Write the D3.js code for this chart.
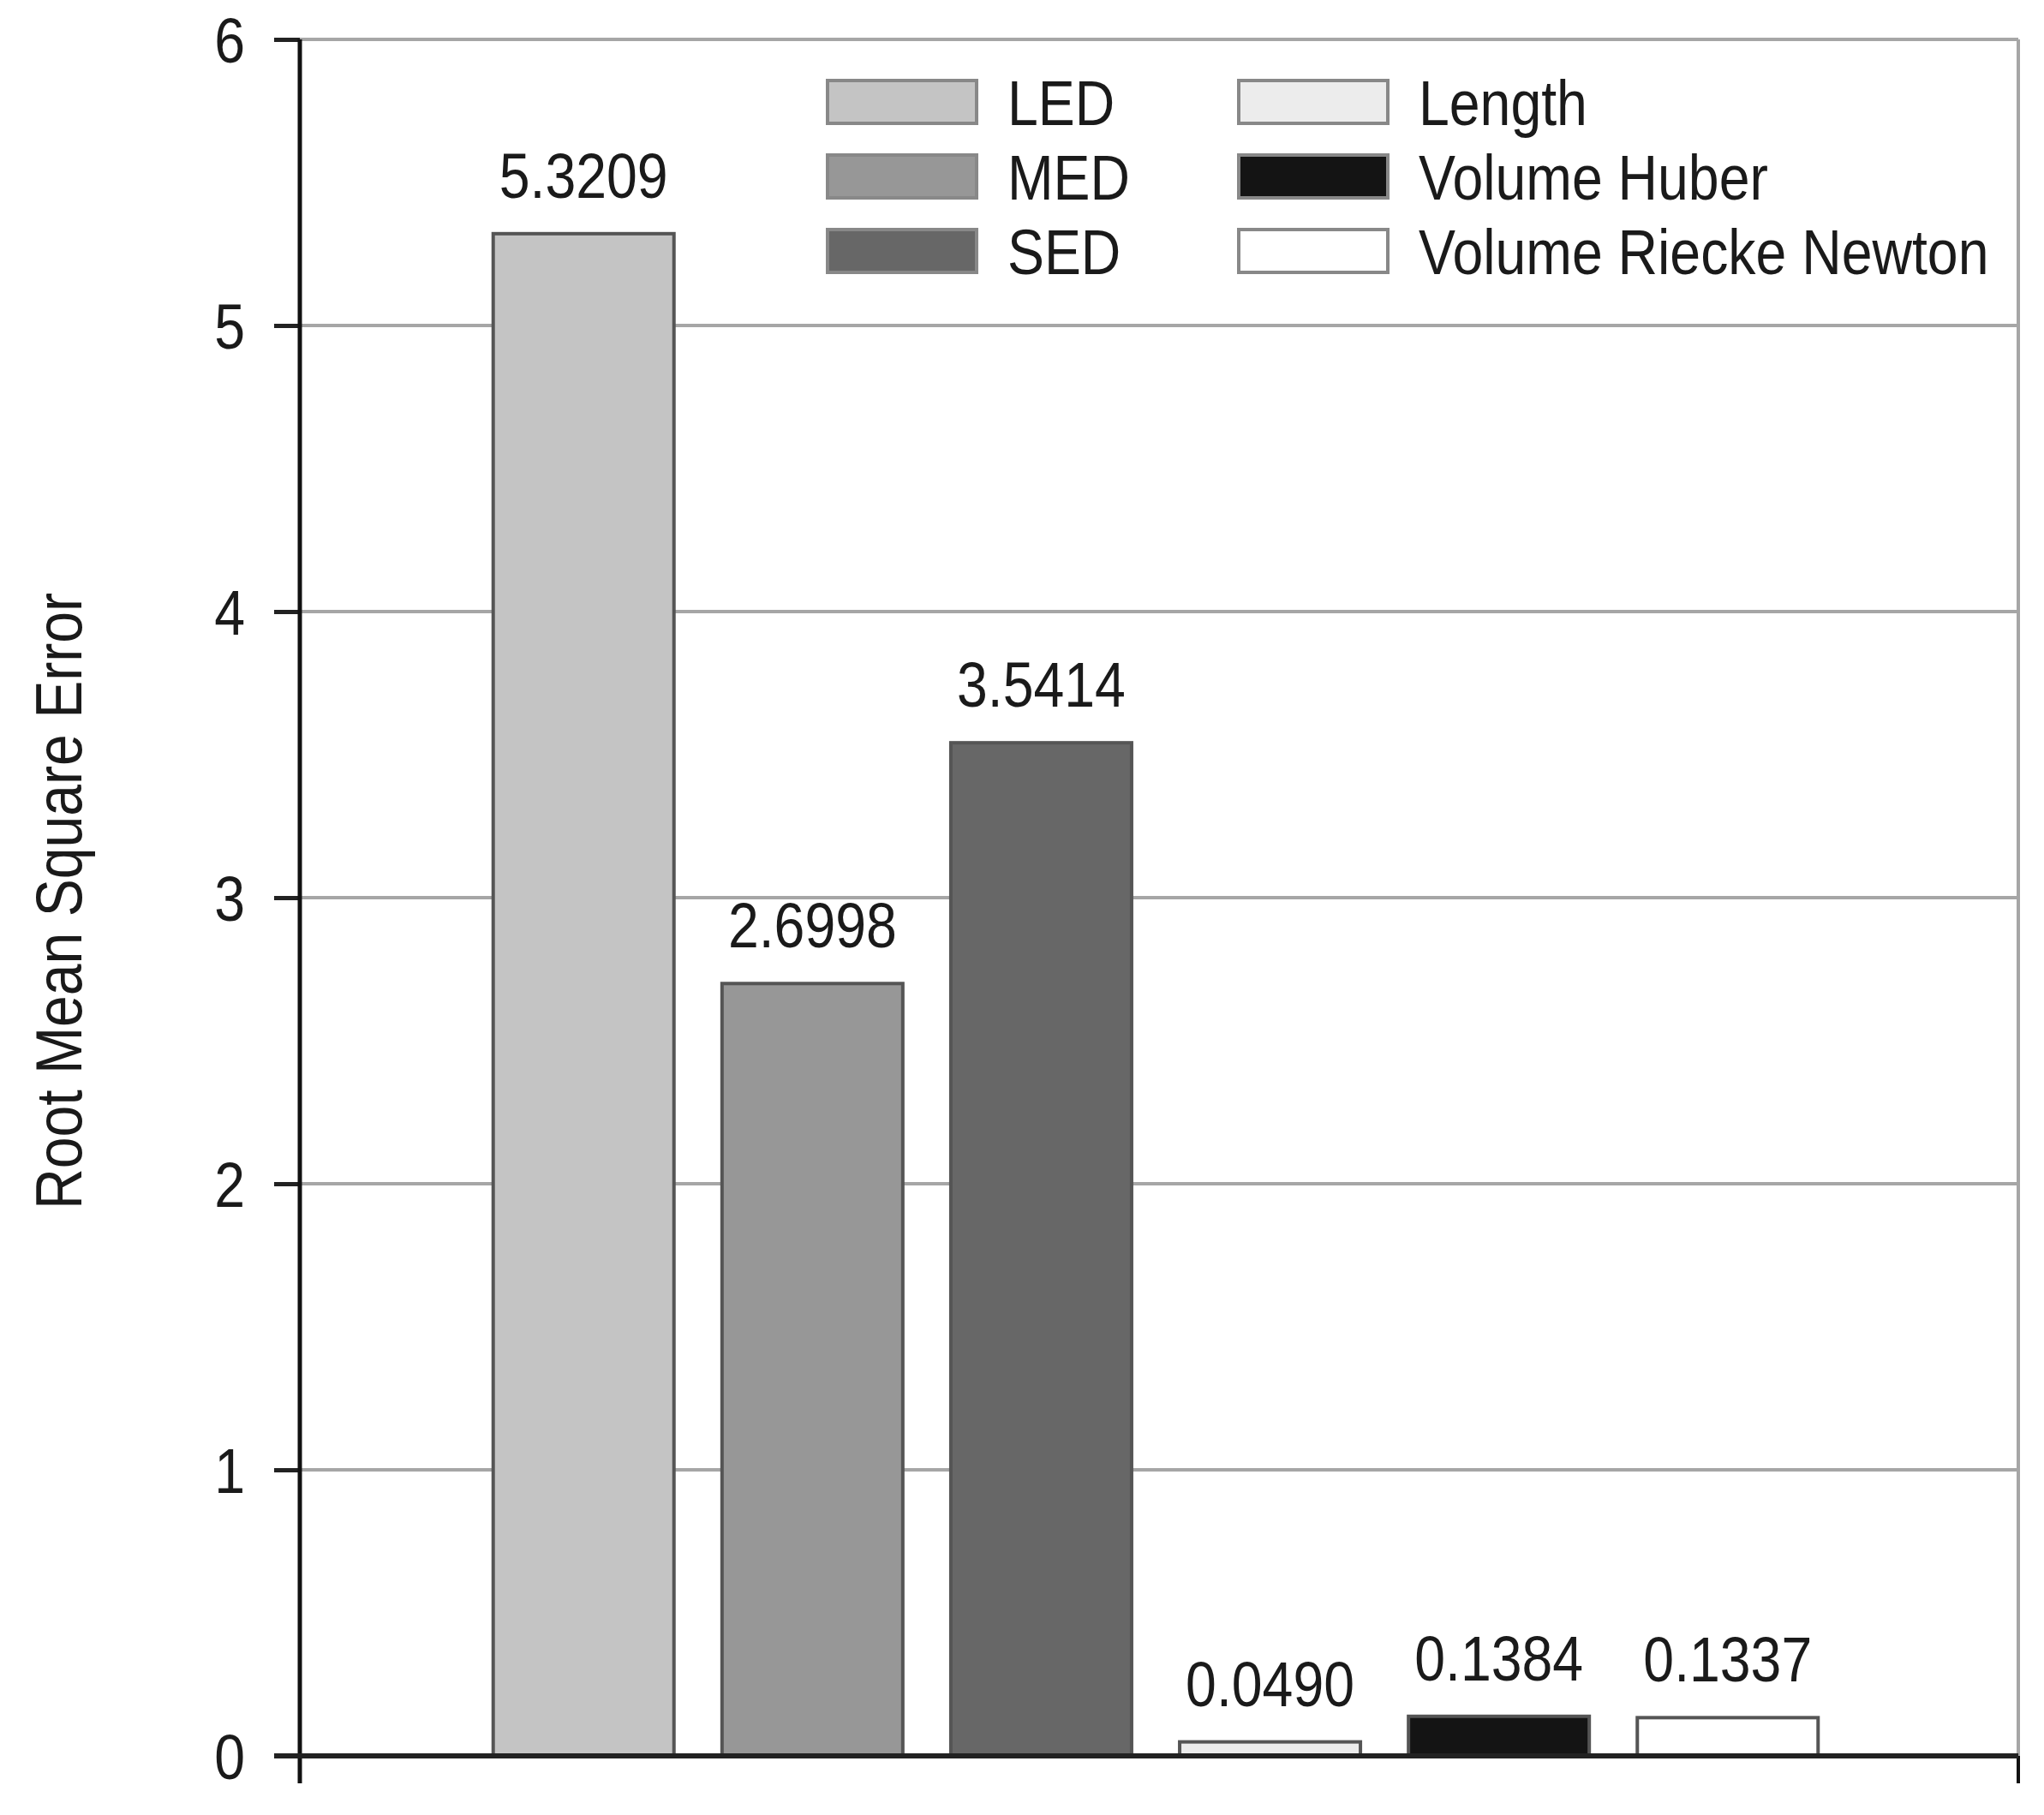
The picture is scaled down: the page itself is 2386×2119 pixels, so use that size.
<!DOCTYPE html>
<meta charset="utf-8">
<head>
<style>
body { margin: 0; background: #fff; }
text { font-family: "Liberation Sans", Arial, sans-serif; fill: #1a1a1a; }
.grid line { stroke: #a6a6a6; stroke-width: 4; }
</style>
</head>
<body>
<script src="https://cdn.jsdelivr.net/npm/d3@7"></script>
<script>

// chart data
var methods = ["LED", "MED", "SED", "Length", "Volume Huber", "Volume Riecke Newton"];
var rmse = [5.3209, 2.6998, 3.5414, 0.0490, 0.1384, 0.1337];
var valueLabels = ["5.3209", "2.6998", "3.5414", "0.0490", "0.1384", "0.1337"];
var fills = ["#c4c4c4", "#979797", "#676767", "#ececec", "#141414", "#ffffff"];
var yTicks = [0, 1, 2, 3, 4, 5, 6];

var W = 2386, H = 2119;
var margin = {top: 46, right: 30, bottom: 69, left: 350},
    width = W - margin.left - margin.right,
    height = H - margin.top - margin.bottom;

var fontSize = 74, squeeze = 0.87;

var svg = d3.select("body").append("svg")
    .attr("width", W)
    .attr("height", H)
    .append("g")
    .attr("transform", "translate(" + margin.left + "," + margin.top + ")");

var y = d3.scaleLinear()
    .domain([0, 6])
    .range([height, 0]);

var x = d3.scaleBand()
    .domain(methods)
    .range([-4, width - 4])
    .paddingInner(0.21)
    .paddingOuter(0.86);

// horizontal grid lines
svg.append("g")
    .attr("class", "grid")
    .selectAll("line")
    .data(yTicks.filter(function(d) { return d > 0; }))
    .enter().append("line")
    .attr("x1", 0)
    .attr("x2", width)
    .attr("y1", function(d) { return y(d); })
    .attr("y2", function(d) { return y(d); });

// right frame line
svg.append("line")
    .attr("x1", width).attr("x2", width)
    .attr("y1", 0).attr("y2", height)
    .attr("stroke", "#a6a6a6")
    .attr("stroke-width", 4);
svg.append("line")
    .attr("x1", width).attr("x2", width)
    .attr("y1", height).attr("y2", height + 32)
    .attr("stroke", "#111")
    .attr("stroke-width", 4);

// bars
svg.selectAll(".bar")
    .data(rmse)
    .enter().append("rect")
    .attr("class", "bar")
    .attr("x", function(d, i) { return x(methods[i]); })
    .attr("width", x.bandwidth())
    .attr("y", function(d) { return y(d); })
    .attr("height", function(d) { return height - y(d); })
    .attr("fill", function(d, i) { return fills[i]; })
    .attr("stroke", "#555")
    .attr("stroke-width", 4);

// bar value labels
svg.selectAll(".label")
    .data(rmse)
    .enter().append("text")
    .attr("class", "label")
    .attr("text-anchor", "middle")
    .attr("font-size", fontSize)
    .attr("transform", function(d, i) {
        return "translate(" + (x(methods[i]) + x.bandwidth() / 2) + "," + (y(d) - 42) + ") scale(" + squeeze + ",1)";
    })
    .text(function(d, i) { return valueLabels[i]; });

// y axis
var yAxis = svg.append("g")
    .call(d3.axisLeft(y).tickValues(yTicks).tickSize(30).tickPadding(34).tickFormat(d3.format("d")));
yAxis.select(".domain").remove();
yAxis.selectAll(".tick line").attr("stroke", "#222").attr("stroke-width", 5);
yAxis.selectAll(".tick text")
    .attr("font-size", fontSize)
    .attr("font-family", "Liberation Sans, Arial, sans-serif")
    .attr("fill", "#1a1a1a")
    .attr("dy", "0.36em")
    .attr("transform", "scale(" + squeeze + ",1)")
    .attr("x", -64 / squeeze);

svg.append("line")
    .attr("x1", 0).attr("x2", 0)
    .attr("y1", 0).attr("y2", height + 32)
    .attr("stroke", "#111")
    .attr("stroke-width", 5);

// x axis baseline
svg.append("line")
    .attr("x1", -30).attr("x2", width)
    .attr("y1", height).attr("y2", height)
    .attr("stroke", "#222")
    .attr("stroke-width", 6);

// y axis title
svg.append("text")
    .attr("text-anchor", "middle")
    .attr("font-size", 76)
    .attr("fill", "#333")
    .attr("transform", "translate(" + (-255) + "," + (height / 2 + 4) + ") rotate(-90) scale(" + squeeze + ",1)")
    .text("Root Mean Square Error");

// legend (two columns of three)
var legend = svg.append("g")
    .attr("transform", "translate(616, 48)");

var item = legend.selectAll(".item")
    .data(methods)
    .enter().append("g")
    .attr("class", "item")
    .attr("transform", function(d, i) {
        return "translate(" + (Math.floor(i / 3) * 480) + "," + ((i % 3) * 87) + ")";
    });

item.append("rect")
    .attr("width", 174)
    .attr("height", 50)
    .attr("fill", function(d, i) { return fills[i]; })
    .attr("stroke", "#888")
    .attr("stroke-width", 4);

item.append("text")
    .attr("font-size", fontSize)
    .attr("transform", "translate(210, 52) scale(" + squeeze + ",1)")
    .text(function(d) { return d; });

</script>
</body>
